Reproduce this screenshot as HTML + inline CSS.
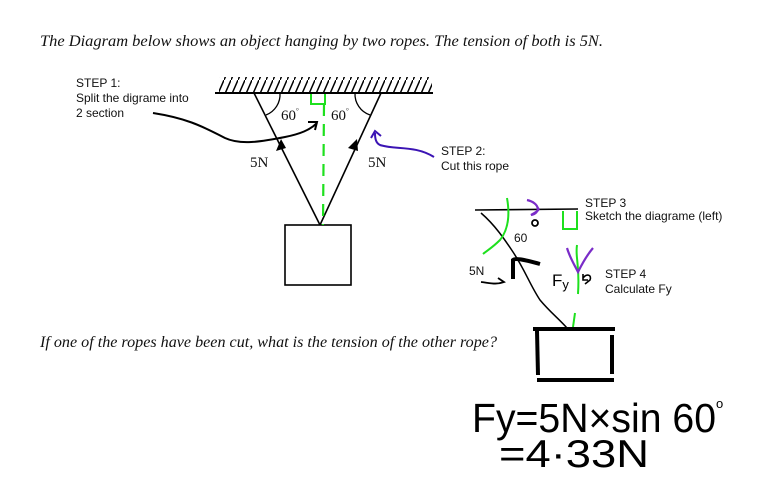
<!DOCTYPE html>
<html><head><meta charset="utf-8"><style>
html,body{margin:0;padding:0;background:#fff;}
svg{display:block;}
.it{font-family:"Liberation Serif",serif;font-style:italic;font-size:15.5px;fill:#111;}
.sf{font-family:"Liberation Serif",serif;font-size:15px;fill:#111;}
.ss{font-family:"Liberation Sans",sans-serif;font-size:12px;fill:#111;}
</style></head><body>
<svg width="782" height="500" viewBox="0 0 782 500" xmlns="http://www.w3.org/2000/svg">
<defs>
<pattern id="h" width="7" height="16" patternUnits="userSpaceOnUse">
<line x1="0" y1="16" x2="7" y2="0" stroke="#000" stroke-width="1.5"/>
</pattern>
</defs>
<text class="it" x="40" y="46" textLength="563" lengthAdjust="spacingAndGlyphs">The Diagram below shows an object hanging by two ropes. The tension of both is 5N.</text>
<text class="it" x="40" y="347" textLength="457" lengthAdjust="spacingAndGlyphs">If one of the ropes have been cut, what is the tension of the other rope?</text>

<!-- ceiling -->
<rect x="219" y="77" width="213" height="15" fill="url(#h)"/>
<line x1="215" y1="93" x2="433" y2="93" stroke="#000" stroke-width="2"/>
<!-- ropes -->
<line x1="254" y1="93" x2="320" y2="225" stroke="#000" stroke-width="1.6"/>
<line x1="381" y1="93" x2="320" y2="225" stroke="#000" stroke-width="1.6"/>
<path d="M266 115 A22 22 0 0 0 280 93" fill="none" stroke="#000" stroke-width="1.3"/>
<path d="M355 93 A22 22 0 0 0 370 115" fill="none" stroke="#000" stroke-width="1.3"/>
<polygon points="281,139 276,151 286,148" fill="#000"/>
<polygon points="357,139 348,148 358,151" fill="#000"/>
<text class="sf" x="281" y="120">60<tspan font-size="7" dy="-7">°</tspan></text>
<text class="sf" x="331" y="120">60<tspan font-size="7" dy="-7">°</tspan></text>
<text class="sf" x="250" y="167">5N</text>
<text class="sf" x="368" y="167">5N</text>
<rect x="285" y="225" width="66" height="60" fill="none" stroke="#000" stroke-width="1.6"/>
<!-- green -->
<path d="M311 94 V104 H325 V94" fill="none" stroke="#1ee01e" stroke-width="2"/>
<path d="M324 104 L323 225" fill="none" stroke="#1ee01e" stroke-width="2.2" stroke-dasharray="12,8"/>
<!-- step 1 -->
<text class="ss" x="76" y="87">STEP 1:</text>
<text class="ss" x="76" y="102">Split the digrame into</text>
<text class="ss" x="76" y="117">2 section</text>
<path d="M153 113 C185 118 200 125 225 138 C240 145 260 142 285 137 C300 134 310 130 317 123" fill="none" stroke="#000" stroke-width="2"/>
<path d="M308 122 L317 122 L315 130" fill="none" stroke="#000" stroke-width="2"/>
<!-- step 2 -->
<path d="M434 157 C415 145 395 150 380 145 C376 143 375 139 375 133" fill="none" stroke="#3b14b4" stroke-width="2"/>
<path d="M371 138 L375 131 L381 136" fill="none" stroke="#3b14b4" stroke-width="2"/>
<text class="ss" x="441" y="155">STEP 2:</text>
<text class="ss" x="441" y="170">Cut this rope</text>

<!-- right sketch -->
<line x1="475" y1="210" x2="578" y2="209" stroke="#000" stroke-width="1.6"/>
<path d="M481 213 C495 225 505 240 513 252 C525 270 530 285 540 300 C550 312 558 318 567 328" fill="none" stroke="#000" stroke-width="1.5"/>
<path d="M507 198 C510 215 508 230 500 240 C493 247 488 250 483 254" fill="none" stroke="#1ee01e" stroke-width="2"/>
<path d="M563 211 V229 H577 V211" fill="none" stroke="#1ee01e" stroke-width="2"/>
<path d="M527 200 C540 203 541 213 531 215 C536 212 540 210 538 208" fill="none" stroke="#7a2cc8" stroke-width="2.2"/>
<circle cx="535" cy="223" r="3" fill="none" stroke="#000" stroke-width="1.8"/>
<text class="ss" x="514" y="242">60</text>
<path d="M513 279 V260 C515 258 522 259 540 264" fill="none" stroke="#000" stroke-width="4"/>
<text class="ss" x="469" y="275">5N</text>
<path d="M481 282 C490 283 496 285 504 282 L498 278" fill="none" stroke="#000" stroke-width="1.8"/>
<path d="M577 245 C575 258 580 263 578 294" fill="none" stroke="#1ee01e" stroke-width="2"/>
<path d="M575 313 L573 327" fill="none" stroke="#1ee01e" stroke-width="2"/>
<path d="M567 248 C570 258 574 264 578 272 C583 262 587 255 593 248" fill="none" stroke="#7a2cc8" stroke-width="2.2"/>
<text x="552" y="286" font-family="Liberation Sans,sans-serif" font-size="17" fill="#000">F<tspan font-size="13" dy="3">y</tspan></text>
<path d="M583 278 C587 273 592 275 590 280 L585 284 M583 274 L583 280 L588 280" fill="none" stroke="#000" stroke-width="1.6"/>
<text class="ss" x="605" y="278">STEP 4</text>
<text class="ss" x="605" y="293">Calculate Fy</text>
<text class="ss" x="585" y="207" font-size="10">STEP 3</text>
<text class="ss" x="585" y="220" font-size="10">Sketch the diagrame (left)</text>
<!-- thick box -->
<line x1="533" y1="329" x2="615" y2="329" stroke="#000" stroke-width="4"/>
<line x1="537" y1="331" x2="538" y2="375" stroke="#000" stroke-width="4"/>
<line x1="612" y1="335" x2="612" y2="374" stroke="#000" stroke-width="4"/>
<line x1="537" y1="380" x2="614" y2="380" stroke="#000" stroke-width="4"/>
<!-- equation -->
<g transform="translate(472,432) scale(1,1.45)">
<text x="0" y="0" font-family="Liberation Sans,sans-serif" font-size="28" fill="#000" textLength="244" lengthAdjust="spacingAndGlyphs">Fy=5N×sin 60</text>
</g>
<text x="716" y="408" font-family="Liberation Sans,sans-serif" font-size="13" fill="#000">o</text>
<g transform="translate(499,467) scale(1,1.45)">
<text x="0" y="0" font-family="Liberation Sans,sans-serif" font-size="27" fill="#000" textLength="150" lengthAdjust="spacingAndGlyphs">=4·33N</text>
</g>
</svg>
</body></html>
